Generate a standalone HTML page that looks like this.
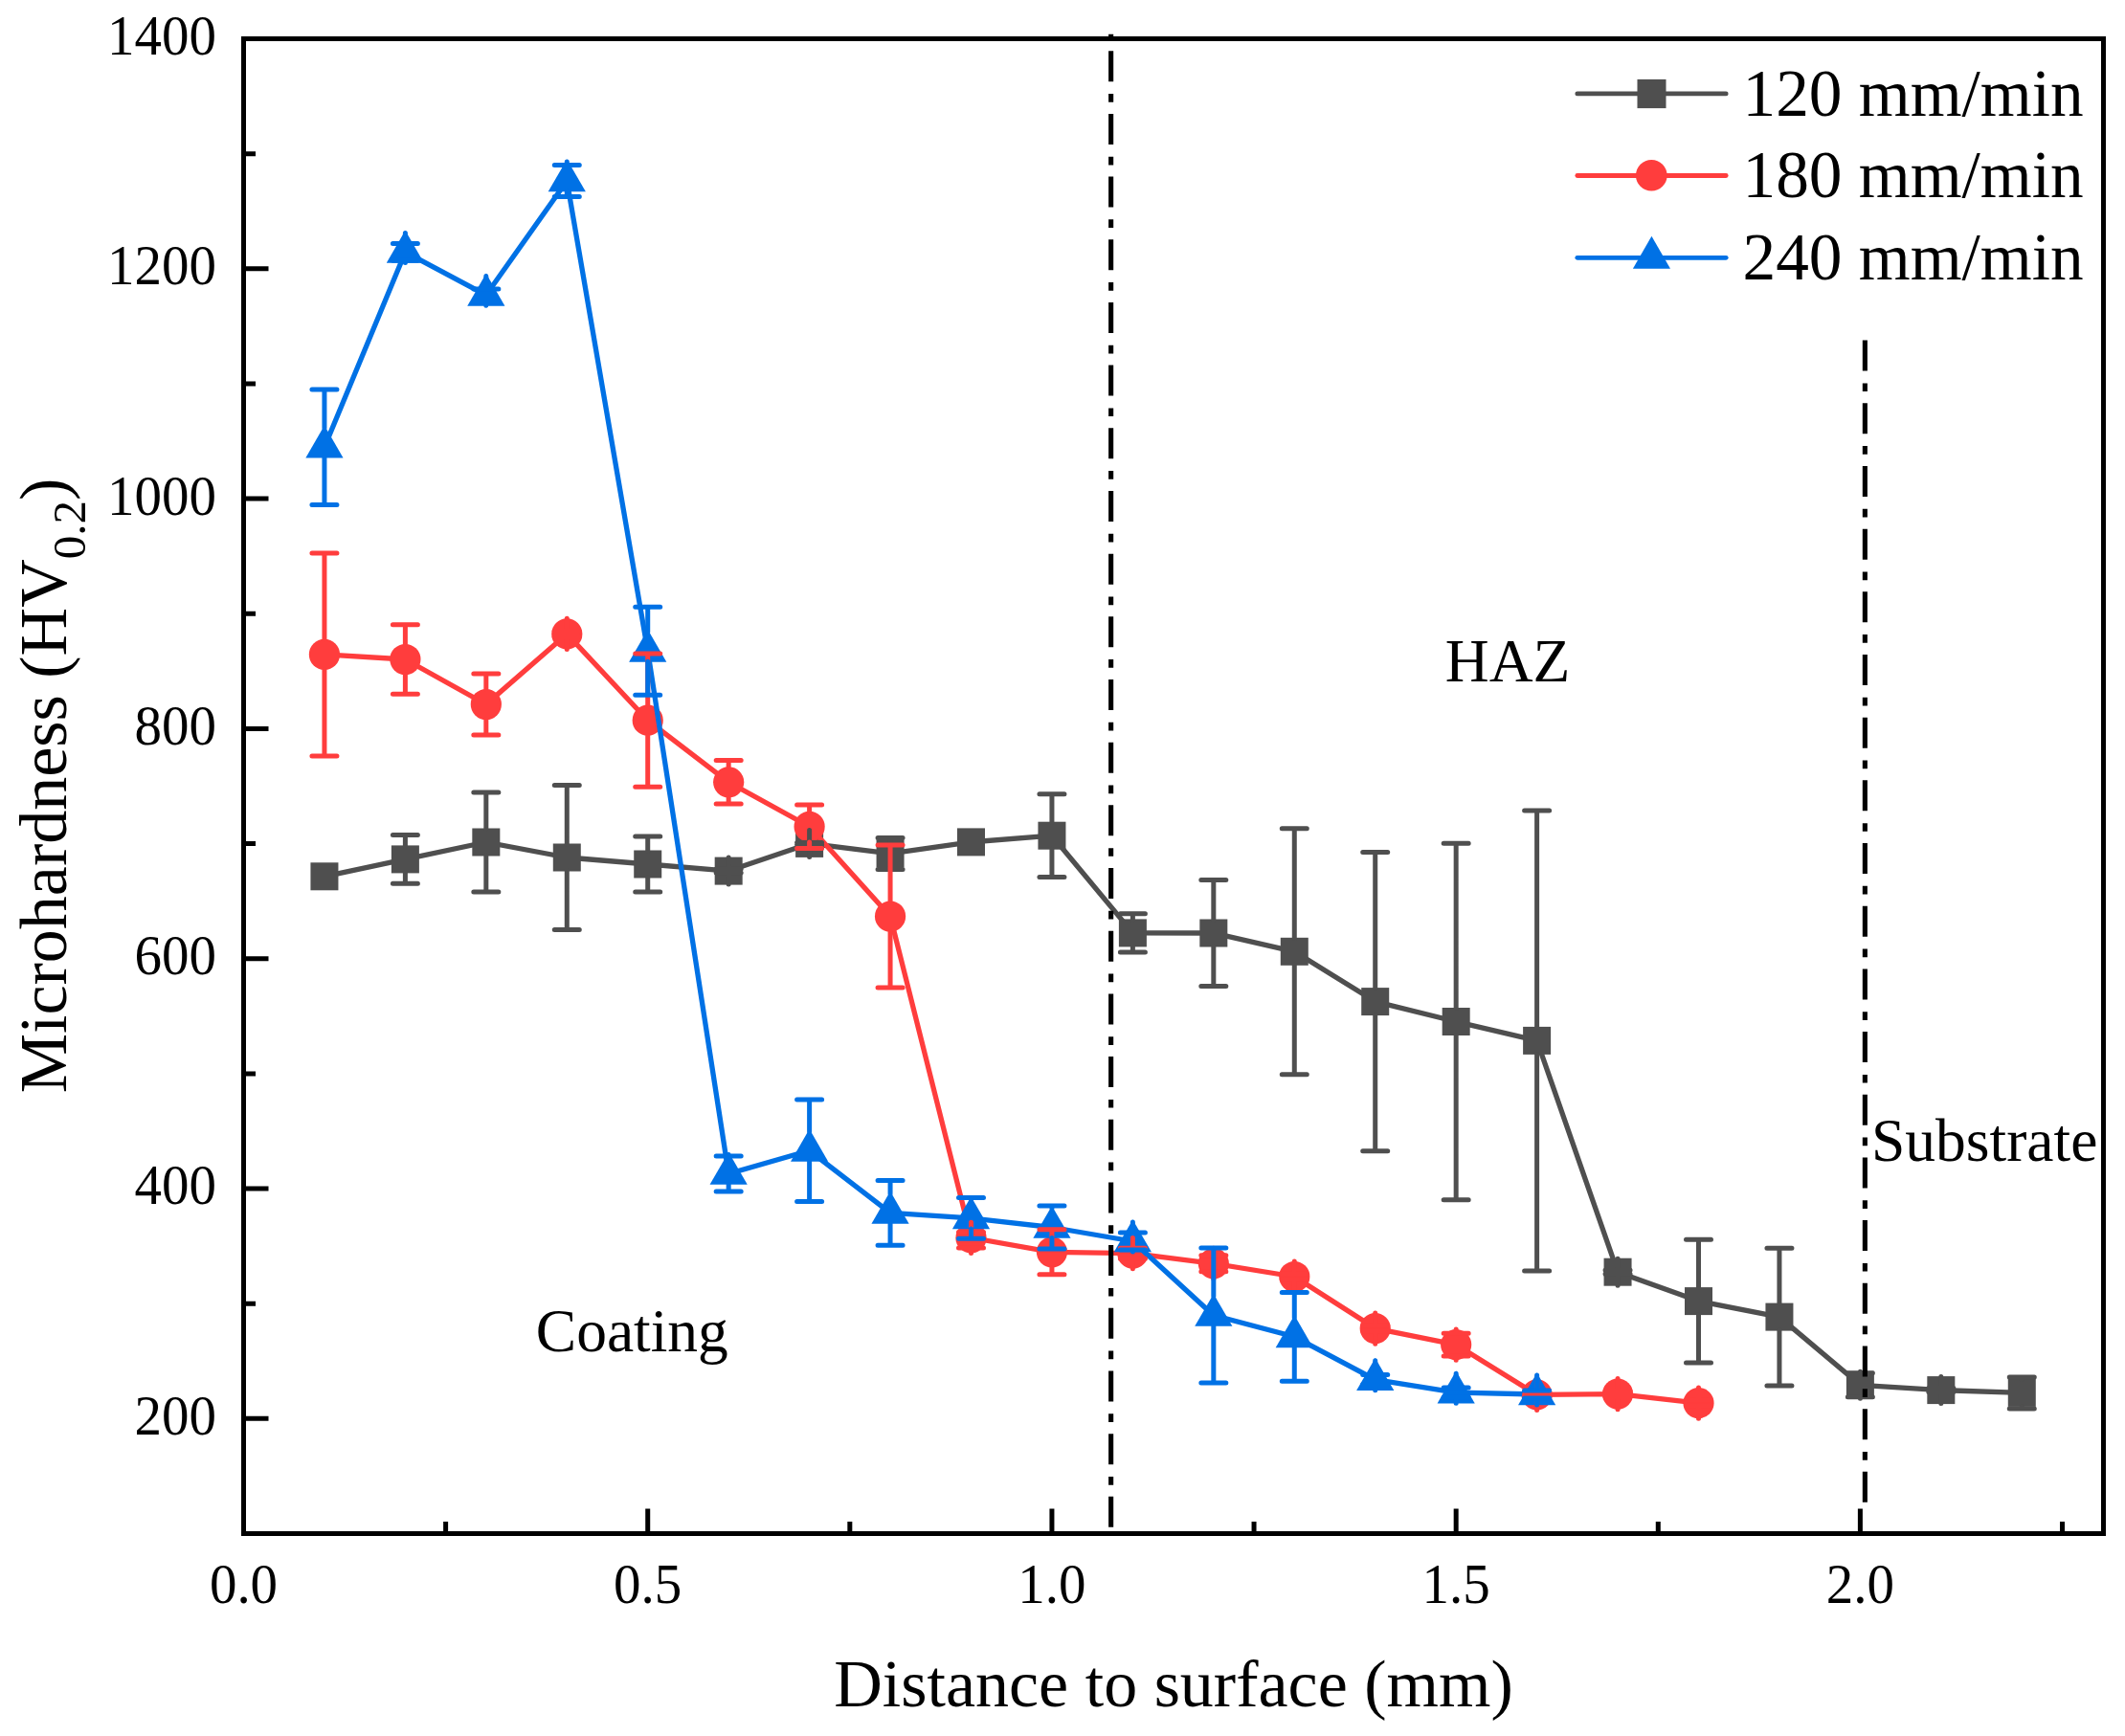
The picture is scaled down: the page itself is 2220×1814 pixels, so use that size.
<!DOCTYPE html>
<html lang="en">
<head>
<meta charset="utf-8">
<title>Microhardness vs distance to surface</title>
<style>
html,body{margin:0;padding:0;background:#fff;}
body{width:2220px;height:1814px;overflow:hidden;}
svg{display:block;}
svg text{font-family:"Liberation Serif","Times New Roman",Times,serif;fill:#000;}
</style>
</head>
<body>
<svg width="2220" height="1814" viewBox="0 0 2220 1814">
<rect width="2220" height="1814" fill="#fff"/>
<g id="series">
<polyline fill="none" stroke="#4f4f4f" stroke-width="5.3" stroke-linejoin="round" stroke-linecap="round" points="338.94,915.8 423.39,897.9 507.83,880 592.28,896 676.72,903 761.17,910.1 845.61,881.4 930.06,891.9 1014.5,879.9 1098.94,873.2 1183.39,974.9 1267.83,975 1352.28,994.3 1436.72,1046.6 1521.17,1067.5 1605.61,1087.4 1690.05,1329.2 1774.5,1359.6 1858.94,1376.1 1943.39,1447.3 2027.83,1452.6 2112.28,1455.4"/>
<g fill="#4f4f4f">
<rect x="324.44" y="901.3" width="29" height="29"/>
<rect x="408.89" y="883.4" width="29" height="29"/>
<rect x="493.33" y="865.5" width="29" height="29"/>
<rect x="577.78" y="881.5" width="29" height="29"/>
<rect x="662.22" y="888.5" width="29" height="29"/>
<rect x="746.67" y="895.6" width="29" height="29"/>
<rect x="831.11" y="866.9" width="29" height="29"/>
<rect x="915.56" y="877.4" width="29" height="29"/>
<rect x="1000" y="865.4" width="29" height="29"/>
<rect x="1084.44" y="858.7" width="29" height="29"/>
<rect x="1168.89" y="960.4" width="29" height="29"/>
<rect x="1253.33" y="960.5" width="29" height="29"/>
<rect x="1337.78" y="979.8" width="29" height="29"/>
<rect x="1422.22" y="1032.1" width="29" height="29"/>
<rect x="1506.67" y="1053" width="29" height="29"/>
<rect x="1591.11" y="1072.9" width="29" height="29"/>
<rect x="1675.55" y="1314.7" width="29" height="29"/>
<rect x="1760" y="1345.1" width="29" height="29"/>
<rect x="1844.44" y="1361.6" width="29" height="29"/>
<rect x="1928.89" y="1432.8" width="29" height="29"/>
<rect x="2013.33" y="1438.1" width="29" height="29"/>
<rect x="2097.78" y="1440.9" width="29" height="29"/>
</g>
<polyline fill="none" stroke="#ff3d3d" stroke-width="5.3" stroke-linejoin="round" stroke-linecap="round" points="338.94,683.9 423.39,689 507.83,736 592.28,662.4 676.72,752.7 761.17,817.3 845.61,863.8 930.06,957.5 1014.5,1293.4 1098.94,1308.3 1183.39,1309.7 1267.83,1320.3 1352.28,1334 1436.72,1388.1 1521.17,1405.1 1605.61,1457.4 1690.05,1456.6 1774.5,1466.1"/>
<g fill="#ff3d3d">
<circle cx="338.94" cy="683.9" r="16.1"/>
<circle cx="423.39" cy="689" r="16.1"/>
<circle cx="507.83" cy="736" r="16.1"/>
<circle cx="592.28" cy="662.4" r="16.1"/>
<circle cx="676.72" cy="752.7" r="16.1"/>
<circle cx="761.17" cy="817.3" r="16.1"/>
<circle cx="845.61" cy="863.8" r="16.1"/>
<circle cx="930.06" cy="957.5" r="16.1"/>
<circle cx="1014.5" cy="1293.4" r="16.1"/>
<circle cx="1098.94" cy="1308.3" r="16.1"/>
<circle cx="1183.39" cy="1309.7" r="16.1"/>
<circle cx="1267.83" cy="1320.3" r="16.1"/>
<circle cx="1352.28" cy="1334" r="16.1"/>
<circle cx="1436.72" cy="1388.1" r="16.1"/>
<circle cx="1521.17" cy="1405.1" r="16.1"/>
<circle cx="1605.61" cy="1457.4" r="16.1"/>
<circle cx="1690.05" cy="1456.6" r="16.1"/>
<circle cx="1774.5" cy="1466.1" r="16.1"/>
</g>
<polyline fill="none" stroke="#0071e5" stroke-width="5.3" stroke-linejoin="round" stroke-linecap="round" points="338.94,467.2 423.39,263.4 507.83,308.3 592.28,189 676.72,680.3 761.17,1226.5 845.61,1202.3 930.06,1267.4 1014.5,1272.9 1098.94,1282.5 1183.39,1297 1267.83,1374.5 1352.28,1396.8 1436.72,1441.6 1521.17,1455.1 1605.61,1457"/>
<g fill="#0071e5">
<polygon points="338.94,444.6 358.54,478.55 319.34,478.55"/>
<polygon points="423.39,240.8 442.99,274.75 403.79,274.75"/>
<polygon points="507.83,285.7 527.43,319.65 488.23,319.65"/>
<polygon points="592.28,166.4 611.88,200.35 572.68,200.35"/>
<polygon points="676.72,657.7 696.32,691.65 657.12,691.65"/>
<polygon points="761.17,1203.9 780.77,1237.85 741.57,1237.85"/>
<polygon points="845.61,1179.7 865.21,1213.65 826.01,1213.65"/>
<polygon points="930.06,1244.8 949.66,1278.75 910.46,1278.75"/>
<polygon points="1014.5,1250.3 1034.1,1284.25 994.9,1284.25"/>
<polygon points="1098.94,1259.9 1118.54,1293.85 1079.34,1293.85"/>
<polygon points="1183.39,1274.4 1202.99,1308.35 1163.79,1308.35"/>
<polygon points="1267.83,1351.9 1287.43,1385.85 1248.23,1385.85"/>
<polygon points="1352.28,1374.2 1371.88,1408.15 1332.68,1408.15"/>
<polygon points="1436.72,1419 1456.32,1452.95 1417.12,1452.95"/>
<polygon points="1521.17,1432.5 1540.77,1466.45 1501.57,1466.45"/>
<polygon points="1605.61,1434.4 1625.21,1468.35 1586.01,1468.35"/>
</g>
<path fill="none" stroke="#4f4f4f" stroke-width="5.0" stroke-linecap="round" d="M423.39 883.9V872.5M423.39 911.9V923.3M410.39 872.5H436.39M410.39 923.3H436.39M507.83 866V828.1M507.83 894V931.9M494.83 828.1H520.83M494.83 931.9H520.83M592.28 882V820.5M592.28 910V971.5M579.28 820.5H605.28M579.28 971.5H605.28M676.72 889V874.1M676.72 917V931.9M663.72 874.1H689.72M663.72 931.9H689.72M761.17 896.1V908.1M761.17 924.1V912.1M748.17 908.1H774.17M748.17 912.1H774.17M845.61 867.4V880.4M845.61 895.4V882.4M832.61 880.4H858.61M832.61 882.4H858.61M930.06 877.9V875.4M930.06 905.9V908.4M917.06 875.4H943.06M917.06 908.4H943.06M1098.94 859.2V829.8M1098.94 887.2V916.6M1085.94 829.8H1111.94M1085.94 916.6H1111.94M1183.39 960.9V954.7M1183.39 988.9V995.1M1170.39 954.7H1196.39M1170.39 995.1H1196.39M1267.83 961V919.6M1267.83 989V1030.4M1254.83 919.6H1280.83M1254.83 1030.4H1280.83M1352.28 980.3V865.8M1352.28 1008.3V1122.8M1339.28 865.8H1365.28M1339.28 1122.8H1365.28M1436.72 1032.6V890.5M1436.72 1060.6V1202.7M1423.72 890.5H1449.72M1423.72 1202.7H1449.72M1521.17 1053.5V881.2M1521.17 1081.5V1253.8M1508.17 881.2H1534.17M1508.17 1253.8H1534.17M1605.61 1073.4V846.9M1605.61 1101.4V1327.9M1592.61 846.9H1618.61M1592.61 1327.9H1618.61M1690.05 1315.2V1327.2M1690.05 1343.2V1331.2M1677.05 1327.2H1703.05M1677.05 1331.2H1703.05M1774.5 1345.6V1295.2M1774.5 1373.6V1424M1761.5 1295.2H1787.5M1761.5 1424H1787.5M1858.94 1362.1V1304.3M1858.94 1390.1V1447.9M1845.94 1304.3H1871.94M1845.94 1447.9H1871.94M1943.39 1433.3V1434.8M1943.39 1461.3V1459.8M1930.39 1434.8H1956.39M1930.39 1459.8H1956.39M2027.83 1438.6V1450.6M2027.83 1466.6V1454.6M2014.83 1450.6H2040.83M2014.83 1454.6H2040.83M2112.28 1441.4V1438.9M2112.28 1469.4V1471.9M2099.28 1438.9H2125.28M2099.28 1471.9H2125.28"/>
<path fill="none" stroke="#ff3d3d" stroke-width="5.0" stroke-linecap="round" d="M338.94 667.8V577.9M338.94 700V789.9M325.94 577.9H351.94M325.94 789.9H351.94M423.39 672.9V652.8M423.39 705.1V725.2M410.39 652.8H436.39M410.39 725.2H436.39M507.83 719.9V703.9M507.83 752.1V768.1M494.83 703.9H520.83M494.83 768.1H520.83M592.28 646.3V659.4M592.28 678.5V665.4M579.28 659.4H605.28M579.28 665.4H605.28M676.72 736.6V683.1M676.72 768.8V822.3M663.72 683.1H689.72M663.72 822.3H689.72M761.17 801.2V794.6M761.17 833.4V840M748.17 794.6H774.17M748.17 840H774.17M845.61 847.7V841.1M845.61 879.9V886.5M832.61 841.1H858.61M832.61 886.5H858.61M930.06 941.4V883.1M930.06 973.6V1031.9M917.06 883.1H943.06M917.06 1031.9H943.06M1014.5 1277.3V1287.4M1014.5 1309.5V1304M1001.5 1287.4H1027.5M1001.5 1304H1027.5M1098.94 1292.2V1284.8M1098.94 1324.4V1331.8M1085.94 1284.8H1111.94M1085.94 1331.8H1111.94M1183.39 1293.6V1304.2M1183.39 1325.8V1315.2M1170.39 1304.2H1196.39M1170.39 1315.2H1196.39M1267.83 1304.2V1311.8M1267.83 1336.4V1328.8M1254.83 1311.8H1280.83M1254.83 1328.8H1280.83M1352.28 1317.9V1331M1352.28 1350.1V1337M1339.28 1331H1365.28M1339.28 1337H1365.28M1436.72 1372V1385.1M1436.72 1404.2V1391.1M1423.72 1385.1H1449.72M1423.72 1391.1H1449.72M1521.17 1389V1393.3M1521.17 1421.2V1416.9M1508.17 1393.3H1534.17M1508.17 1416.9H1534.17M1605.61 1441.3V1456.9M1605.61 1473.5V1457.9M1592.61 1456.9H1618.61M1592.61 1457.9H1618.61M1690.05 1440.5V1453.6M1690.05 1472.7V1459.6M1677.05 1453.6H1703.05M1677.05 1459.6H1703.05M1774.5 1450V1463.1M1774.5 1482.2V1469.1M1761.5 1463.1H1787.5M1761.5 1469.1H1787.5"/>
<path fill="none" stroke="#0071e5" stroke-width="5.0" stroke-linecap="round" d="M338.94 447.3V407M338.94 478.25V527.4M325.94 407H351.94M325.94 527.4H351.94M423.39 243.5V254.6M423.39 274.45V272.2M410.39 254.6H436.39M410.39 272.2H436.39M507.83 288.4V301.9M507.83 319.35V314.7M494.83 301.9H520.83M494.83 314.7H520.83M592.28 169.1V172.5M592.28 200.05V205.5M579.28 172.5H605.28M579.28 205.5H605.28M676.72 660.4V634.3M676.72 691.35V726.3M663.72 634.3H689.72M663.72 726.3H689.72M761.17 1206.6V1208.1M761.17 1237.55V1244.9M748.17 1208.1H774.17M748.17 1244.9H774.17M845.61 1182.4V1149.1M845.61 1213.35V1255.5M832.61 1149.1H858.61M832.61 1255.5H858.61M930.06 1247.5V1233.5M930.06 1278.45V1301.3M917.06 1233.5H943.06M917.06 1301.3H943.06M1014.5 1253V1251.5M1014.5 1283.95V1294.3M1001.5 1251.5H1027.5M1001.5 1294.3H1027.5M1098.94 1262.6V1260M1098.94 1293.55V1305M1085.94 1260H1111.94M1085.94 1305H1111.94M1183.39 1277.1V1288M1183.39 1308.05V1306M1170.39 1288H1196.39M1170.39 1306H1196.39M1267.83 1354.6V1304M1267.83 1385.55V1445M1254.83 1304H1280.83M1254.83 1445H1280.83M1352.28 1376.9V1350.4M1352.28 1407.85V1443.2M1339.28 1350.4H1365.28M1339.28 1443.2H1365.28M1436.72 1421.7V1436.6M1436.72 1452.65V1446.6M1423.72 1436.6H1449.72M1423.72 1446.6H1449.72M1521.17 1435.2V1450.1M1521.17 1466.15V1460.1M1508.17 1450.1H1534.17M1508.17 1460.1H1534.17M1605.61 1437.1V1453M1605.61 1468.05V1461M1592.61 1453H1618.61M1592.61 1461H1618.61"/>
</g>
<g id="reflines" fill="none" stroke="#000" stroke-width="5.1" stroke-dasharray="32 12.8 8.7 12.18">
<line x1="1160.65" y1="35.7" x2="1160.65" y2="1596.4" stroke-dashoffset="48.18"/>
<line x1="1948.35" y1="355.6" x2="1948.35" y2="1570"/>
</g>
<path fill="none" stroke="#000" stroke-width="5" d="M254.5 1482.35H280.5M254.5 1362.19H267M254.5 1242.04H280.5M254.5 1121.88H267M254.5 1001.73H280.5M254.5 881.58H267M254.5 761.42H280.5M254.5 641.27H267M254.5 521.12H280.5M254.5 400.96H267M254.5 280.81H280.5M254.5 160.65H267M465.61 1602.5V1590M676.72 1602.5V1576.5M887.83 1602.5V1590M1098.94 1602.5V1576.5M1310.05 1602.5V1590M1521.17 1602.5V1576.5M1732.28 1602.5V1590M1943.39 1602.5V1576.5M2154.5 1602.5V1590"/>
<rect x="254.5" y="40.5" width="1943.0" height="1562.0" fill="none" stroke="#000" stroke-width="5"/>
<g font-size="57" text-anchor="end">
<text transform="translate(226 1498.75) scale(1 1.035)">200</text>
<text transform="translate(226 1258.44) scale(1 1.035)">400</text>
<text transform="translate(226 1018.13) scale(1 1.035)">600</text>
<text transform="translate(226 777.82) scale(1 1.035)">800</text>
<text transform="translate(226 537.52) scale(1 1.035)">1000</text>
<text transform="translate(226 297.21) scale(1 1.035)">1200</text>
<text transform="translate(226 56.9) scale(1 1.035)">1400</text>
</g>
<g font-size="57" text-anchor="middle">
<text transform="translate(254.5 1674.6) scale(1 1.035)">0.0</text>
<text transform="translate(676.72 1674.6) scale(1 1.035)">0.5</text>
<text transform="translate(1098.94 1674.6) scale(1 1.035)">1.0</text>
<text transform="translate(1521.17 1674.6) scale(1 1.035)">1.5</text>
<text transform="translate(1943.39 1674.6) scale(1 1.035)">2.0</text>
</g>
<g id="legend">
<g fill="none" stroke-width="4.8" stroke-linecap="round">
<line x1="1647.8" y1="97.9" x2="1803.2" y2="97.9" stroke="#4f4f4f"/>
<line x1="1647.8" y1="183.5" x2="1803.2" y2="183.5" stroke="#ff3d3d"/>
<line x1="1647.8" y1="269.3" x2="1803.2" y2="269.3" stroke="#0071e5"/>
</g>
<rect x="1710.5" y="82.9" width="30" height="30.2" fill="#4f4f4f"/>
<circle cx="1725.3" cy="183.3" r="16.3" fill="#ff3d3d"/>
<polygon points="1725.45,246.8 1745,280.7 1705.9,280.7" fill="#0071e5"/>
<g font-size="69.3">
<text x="1820.5" y="120.5">120 mm/min</text>
<text x="1820.5" y="206.3">180 mm/min</text>
<text x="1820.5" y="292.1">240 mm/min</text>
</g>
</g>
<g id="labels" font-size="63.5">
<text x="1509.8" y="712">HAZ</text>
<text x="559.8" y="1411.6">Coating</text>
<text x="1955" y="1212.6">Substrate</text>
</g>
<text id="xtitle" x="1226" y="1782.6" font-size="70" text-anchor="middle">Distance to surface (mm)</text>
<text id="ytitle" transform="translate(69 821) rotate(-90)" font-size="70" text-anchor="middle">Microhardness (HV<tspan font-size="49" dy="20">0.2</tspan><tspan dy="-20">)</tspan></text>
</svg>
</body>
</html>
